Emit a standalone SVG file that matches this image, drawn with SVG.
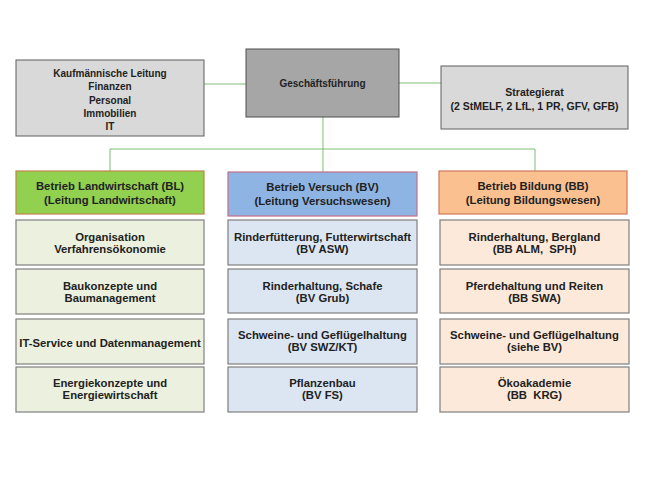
<svg xmlns="http://www.w3.org/2000/svg" width="646" height="484" viewBox="0 0 646 484">
<style>
text{font-family:"Liberation Sans",Arial,sans-serif;font-weight:bold;text-anchor:middle;fill:#222222;white-space:pre}
.t10{font-size:10px}
.t11{font-size:11.3px}
.gray{fill:#d9d9d9;stroke:#5f5f5f;stroke-width:1}
.gf{fill:#a6a6a6;stroke:#4f4f4f;stroke-width:1}
.bl{fill:#ebf1de;stroke:#7f7f7f;stroke-width:1.2}
.bv{fill:#dce6f2;stroke:#7f7f7f;stroke-width:1.2}
.bb{fill:#fde9d9;stroke:#7f7f7f;stroke-width:1.2}
.conn{fill:none;stroke:#7cbf74;stroke-width:1}
</style>
<rect width="646" height="484" fill="#ffffff"/>
<g id="connectors">
<path class="conn" d="M204,84 H246"/>
<path class="conn" d="M399,83 H441"/>
<path class="conn" d="M323,117 V172"/>
<path class="conn" d="M110,171 V149 H535 V171"/>
</g>
<g id="kaufm">
<rect class="gray" x="16" y="60" width="188" height="76"/>
<text class="t10" x="110" y="77">Kaufmännische Leitung</text>
<text class="t10" x="110" y="90">Finanzen</text>
<text class="t10" x="110" y="103.5">Personal</text>
<text class="t10" x="110" y="116.5">Immobilien</text>
<text class="t10" x="110" y="130">IT</text>
</g>
<g id="gf">
<rect class="gf" x="246" y="49" width="153" height="68"/>
<text class="t10" x="322.5" y="87">Geschäftsführung</text>
</g>
<g id="strategierat">
<rect class="gray" x="441" y="66" width="187" height="63"/>
<text class="t10" style="font-size:10.5px" x="534.5" y="96">Strategierat</text>
<text class="t10" style="font-size:10.5px" x="534.5" y="109.5">(2 StMELF, 2 LfL, 1 PR, GFV, GFB)</text>
</g>
<g id="bl-head">
<rect x="16" y="171" width="188" height="43" fill="#92d050" stroke="#c0854a" stroke-width="1.2"/>
<text class="t11" x="110" y="189.5">Betrieb Landwirtschaft (BL)</text>
<text class="t11" x="110" y="203.5">(Leitung Landwirtschaft)</text>
</g>
<g id="bv-head">
<rect x="228" y="172" width="189" height="44" fill="#8eb4e3" stroke="#c0708a" stroke-width="1.2"/>
<text class="t11" x="322.5" y="190.5">Betrieb Versuch (BV)</text>
<text class="t11" x="322.5" y="204.5">(Leitung Versuchswesen)</text>
</g>
<g id="bb-head">
<rect x="439" y="171" width="188" height="43" fill="#fac090" stroke="#d0785a" stroke-width="1.2"/>
<text class="t11" x="533" y="189.5">Betrieb Bildung (BB)</text>
<text class="t11" x="533" y="203.5">(Leitung Bildungswesen)</text>
</g>
<g id="bl-1">
<rect class="bl" x="16" y="220" width="188" height="45"/>
<text class="t11" x="110" y="240.5">Organisation</text>
<text class="t11" x="110" y="253">Verfahrensökonomie</text>
</g>
<g id="bl-2">
<rect class="bl" x="16" y="269" width="188" height="45"/>
<text class="t11" x="110" y="289.5">Baukonzepte und</text>
<text class="t11" x="110" y="301.5">Baumanagement</text>
</g>
<g id="bl-3">
<rect class="bl" x="16" y="319" width="188" height="45"/>
<text class="t11" x="110" y="347">IT-Service und Datenmanagement</text>
</g>
<g id="bl-4">
<rect class="bl" x="16" y="367" width="188" height="45"/>
<text class="t11" x="110" y="386.5">Energiekonzepte und</text>
<text class="t11" x="110" y="399">Energiewirtschaft</text>
</g>
<g id="bv-1">
<rect class="bv" x="228" y="220" width="189" height="45"/>
<text class="t11" x="322.5" y="240.5">Rinderfütterung, Futterwirtschaft</text>
<text class="t11" x="322.5" y="253">(BV ASW)</text>
</g>
<g id="bv-2">
<rect class="bv" x="228" y="269" width="189" height="44"/>
<text class="t11" x="322.5" y="289.5">Rinderhaltung, Schafe</text>
<text class="t11" x="322.5" y="301.5">(BV Grub)</text>
</g>
<g id="bv-3">
<rect class="bv" x="228" y="319" width="189" height="45"/>
<text class="t11" x="322.5" y="338.5">Schweine- und Geflügelhaltung</text>
<text class="t11" x="322.5" y="351">(BV SWZ/KT)</text>
</g>
<g id="bv-4">
<rect class="bv" x="228" y="367" width="189" height="45"/>
<text class="t11" x="322.5" y="386.5">Pflanzenbau</text>
<text class="t11" x="322.5" y="399">(BV FS)</text>
</g>
<g id="bb-1">
<rect class="bb" x="440" y="220" width="189" height="45"/>
<text class="t11" x="534.5" y="240.5">Rinderhaltung, Bergland</text>
<text class="t11" x="534.5" y="253">(BB ALM,  SPH)</text>
</g>
<g id="bb-2">
<rect class="bb" x="440" y="269" width="189" height="44"/>
<text class="t11" x="534.5" y="289.5">Pferdehaltung und Reiten</text>
<text class="t11" x="534.5" y="301.5">(BB SWA)</text>
</g>
<g id="bb-3">
<rect class="bb" x="440" y="319" width="189" height="45"/>
<text class="t11" x="534.5" y="338.5">Schweine- und Geflügelhaltung</text>
<text class="t11" x="534.5" y="351">(siehe BV)</text>
</g>
<g id="bb-4">
<rect class="bb" x="440" y="367" width="189" height="45"/>
<text class="t11" x="534.5" y="386.5">Ökoakademie</text>
<text class="t11" x="534.5" y="399">(BB  KRG)</text>
</g>
</svg>
